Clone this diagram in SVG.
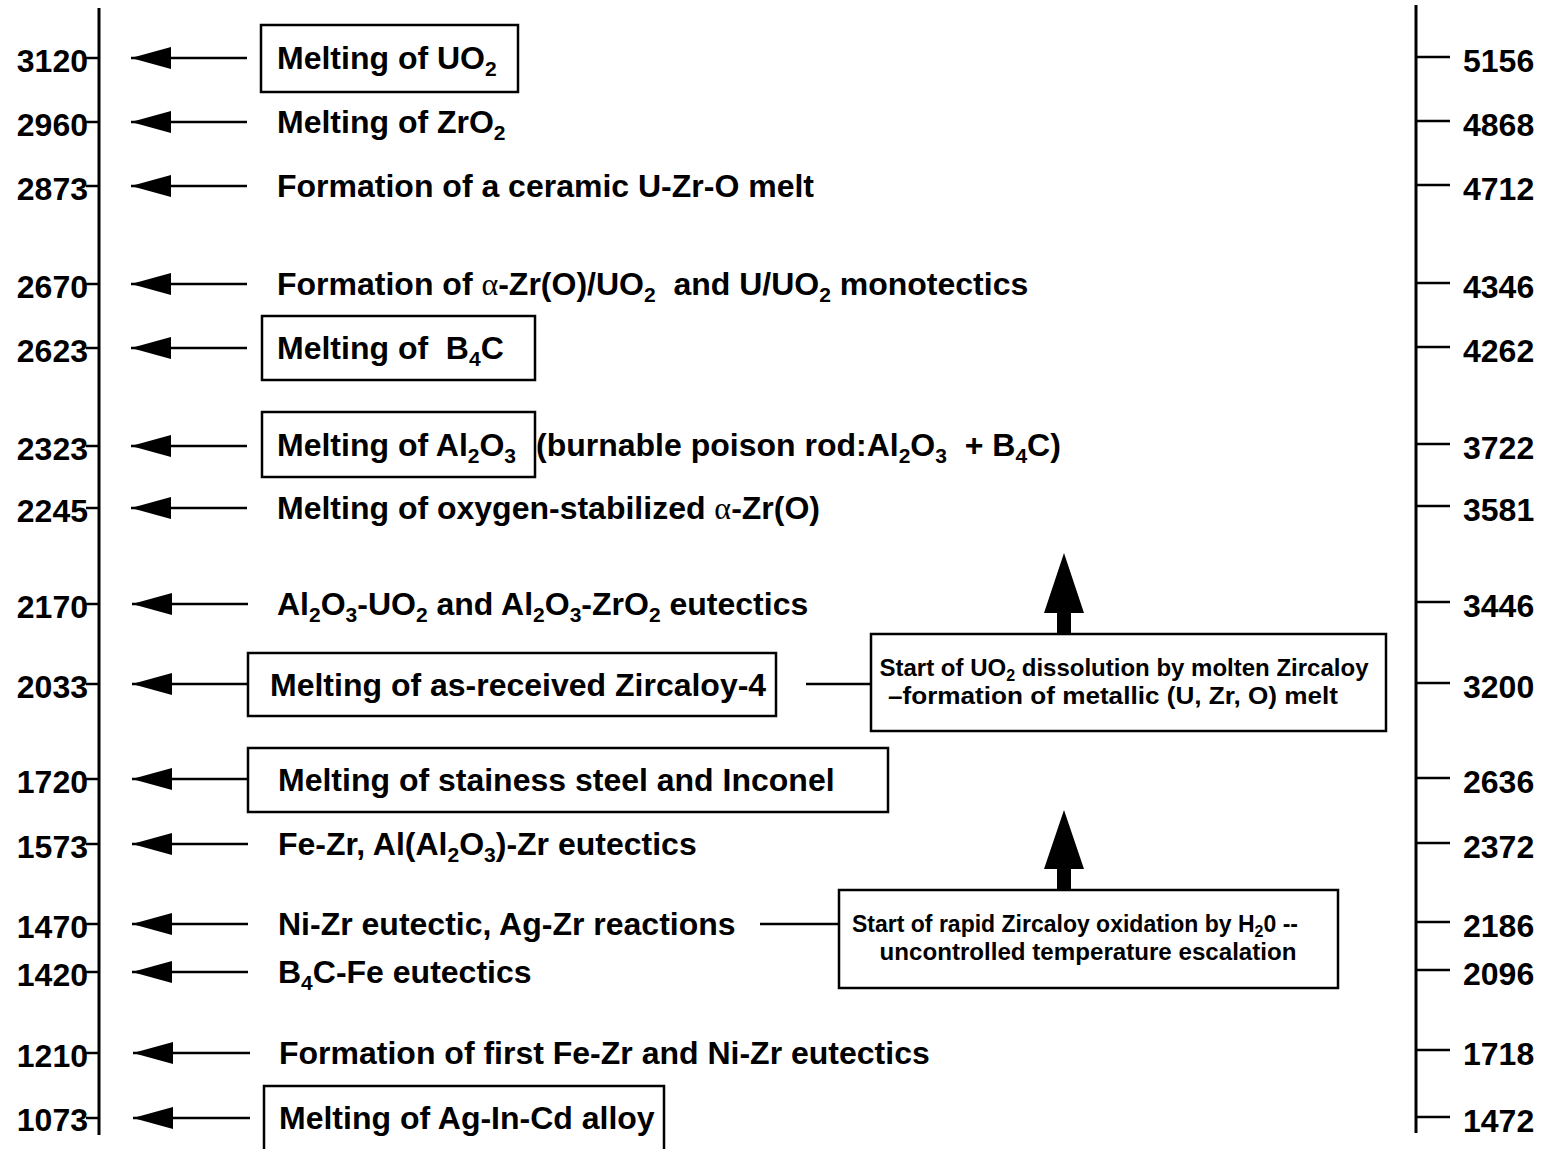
<svg xmlns="http://www.w3.org/2000/svg" width="1543" height="1149" viewBox="0 0 1543 1149">
  <style>
    text { font-family: "Liberation Sans", Arial, sans-serif; font-weight: bold; fill: #000; }
    .num { font-size: 32px; }
    .numL { text-anchor: end; }
    .lbl { font-size: 32px; }
    .sub { font-size: 21px; }
    .greek { font-family: "Liberation Serif", "Times New Roman", serif; font-weight: normal; }
    .note { font-size: 23px; text-anchor: middle; }
    .note .sub { font-size: 16px; }
    .axis { stroke: #000; stroke-width: 3; fill: none; }
    .tick { stroke: #000; stroke-width: 2.5; }
    .box { fill: none; stroke: #000; stroke-width: 2.5; }
    .conn { stroke: #000; stroke-width: 2.5; fill: none; }
    .big { fill: #000; }
  </style>
  <defs>
    <marker id="head" markerUnits="userSpaceOnUse" markerWidth="42" markerHeight="26" refX="40" refY="13" orient="auto">
      <path d="M0,2 L40,13 L0,24 Z" fill="#000"/>
    </marker>
  </defs>

  <rect width="1543" height="1149" fill="#fff"/>

  <!-- left scale (K) -->
  <g id="scale-left">
    <line class="axis" x1="99" y1="8" x2="99" y2="1135"/>
    <g class="tick">
      <line x1="86" y1="58" x2="99" y2="58"/>
      <line x1="86" y1="122" x2="99" y2="122"/>
      <line x1="86" y1="186" x2="99" y2="186"/>
      <line x1="86" y1="284" x2="99" y2="284"/>
      <line x1="86" y1="348" x2="99" y2="348"/>
      <line x1="86" y1="446" x2="99" y2="446"/>
      <line x1="86" y1="508" x2="99" y2="508"/>
      <line x1="86" y1="604" x2="99" y2="604"/>
      <line x1="86" y1="684" x2="99" y2="684"/>
      <line x1="86" y1="779" x2="99" y2="779"/>
      <line x1="86" y1="844" x2="99" y2="844"/>
      <line x1="86" y1="924" x2="99" y2="924"/>
      <line x1="86" y1="972" x2="99" y2="972"/>
      <line x1="86" y1="1053" x2="99" y2="1053"/>
      <line x1="86" y1="1118" x2="99" y2="1118"/>
    </g>
    <g class="num numL">
      <text x="88" y="72">3120</text>
      <text x="88" y="136">2960</text>
      <text x="88" y="200">2873</text>
      <text x="88" y="298">2670</text>
      <text x="88" y="362">2623</text>
      <text x="88" y="460">2323</text>
      <text x="88" y="522">2245</text>
      <text x="88" y="618">2170</text>
      <text x="88" y="698">2033</text>
      <text x="88" y="793">1720</text>
      <text x="88" y="858">1573</text>
      <text x="88" y="938">1470</text>
      <text x="88" y="986">1420</text>
      <text x="88" y="1067">1210</text>
      <text x="88" y="1131">1073</text>
    </g>
  </g>

  <!-- right scale (°F) -->
  <g id="scale-right">
    <line class="axis" x1="1416" y1="5" x2="1416" y2="1133"/>
    <g class="tick">
      <line x1="1416" y1="57" x2="1450" y2="57"/>
      <line x1="1416" y1="121" x2="1450" y2="121"/>
      <line x1="1416" y1="185" x2="1450" y2="185"/>
      <line x1="1416" y1="283" x2="1450" y2="283"/>
      <line x1="1416" y1="347" x2="1450" y2="347"/>
      <line x1="1416" y1="444" x2="1450" y2="444"/>
      <line x1="1416" y1="506" x2="1450" y2="506"/>
      <line x1="1416" y1="602" x2="1450" y2="602"/>
      <line x1="1416" y1="683" x2="1450" y2="683"/>
      <line x1="1416" y1="778" x2="1450" y2="778"/>
      <line x1="1416" y1="843" x2="1450" y2="843"/>
      <line x1="1416" y1="922" x2="1450" y2="922"/>
      <line x1="1416" y1="970" x2="1450" y2="970"/>
      <line x1="1416" y1="1050" x2="1450" y2="1050"/>
      <line x1="1416" y1="1117" x2="1450" y2="1117"/>
    </g>
    <g class="num">
      <text x="1463" y="72">5156</text>
      <text x="1463" y="136">4868</text>
      <text x="1463" y="200">4712</text>
      <text x="1463" y="298">4346</text>
      <text x="1463" y="362">4262</text>
      <text x="1463" y="459">3722</text>
      <text x="1463" y="521">3581</text>
      <text x="1463" y="617">3446</text>
      <text x="1463" y="698">3200</text>
      <text x="1463" y="793">2636</text>
      <text x="1463" y="858">2372</text>
      <text x="1463" y="937">2186</text>
      <text x="1463" y="985">2096</text>
      <text x="1463" y="1065">1718</text>
      <text x="1463" y="1132">1472</text>
    </g>
  </g>

  <!-- connectors -->
  <g id="connectors">
    <g class="conn" marker-end="url(#head)">
      <line x1="247" y1="58" x2="131" y2="58"/>
      <line x1="247" y1="122" x2="131" y2="122"/>
      <line x1="247" y1="186" x2="131" y2="186"/>
      <line x1="247" y1="284" x2="131" y2="284"/>
      <line x1="247" y1="348" x2="131" y2="348"/>
      <line x1="247" y1="446" x2="131" y2="446"/>
      <line x1="247" y1="508" x2="131" y2="508"/>
      <line x1="248" y1="604" x2="132" y2="604"/>
      <line x1="248" y1="684" x2="132" y2="684"/>
      <line x1="248" y1="779" x2="132" y2="779"/>
      <line x1="248" y1="844" x2="132" y2="844"/>
      <line x1="248" y1="924" x2="132" y2="924"/>
      <line x1="248" y1="972" x2="132" y2="972"/>
      <line x1="250" y1="1053" x2="133" y2="1053"/>
      <line x1="250" y1="1118" x2="133" y2="1118"/>
    </g>
    <line class="conn" x1="806" y1="684" x2="871" y2="684"/>
    <line class="conn" x1="760" y1="924" x2="839" y2="924"/>
    <path class="big" d="M1064,553 L1084,613 L1071,613 L1071,634 L1057,634 L1057,613 L1044,613 Z"/>
    <path class="big" d="M1064,810 L1084,869 L1071,869 L1071,890 L1057,890 L1057,869 L1044,869 Z"/>
  </g>

  <!-- events -->
  <g id="uo2">
    <rect class="box" x="261" y="25" width="257" height="67"/>
    <text class="lbl" x="277" y="69">Melting of UO<tspan class="sub" dy="7">2</tspan></text>
  </g>
  <g id="zro2">
    <text class="lbl" x="277" y="133">Melting of ZrO<tspan class="sub" dy="7">2</tspan></text>
  </g>
  <g id="ceramic-melt">
    <text class="lbl" x="277" y="197">Formation of a ceramic U-Zr-O melt</text>
  </g>
  <g id="monotectics">
    <text class="lbl" x="277" y="295" xml:space="preserve">Formation of <tspan class="greek">α</tspan>-Zr(O)/UO<tspan class="sub" dy="7">2</tspan><tspan dy="-7">  and U/UO</tspan><tspan class="sub" dy="7">2</tspan><tspan dy="-7"> monotectics</tspan></text>
  </g>
  <g id="b4c">
    <rect class="box" x="262" y="316" width="273" height="64"/>
    <text class="lbl" x="277" y="359" xml:space="preserve">Melting of  B<tspan class="sub" dy="7">4</tspan><tspan dy="-7">C</tspan></text>
  </g>
  <g id="al2o3">
    <rect class="box" x="262" y="412" width="273" height="65"/>
    <text class="lbl" x="277" y="456">Melting of Al<tspan class="sub" dy="7">2</tspan><tspan dy="-7">O</tspan><tspan class="sub" dy="7">3</tspan></text>
    <text class="lbl" x="536" y="456" xml:space="preserve">(burnable poison rod:Al<tspan class="sub" dy="7">2</tspan><tspan dy="-7">O</tspan><tspan class="sub" dy="7">3</tspan><tspan dy="-7">  + B</tspan><tspan class="sub" dy="7">4</tspan><tspan dy="-7">C)</tspan></text>
  </g>
  <g id="alpha-zr">
    <text class="lbl" x="277" y="519">Melting of oxygen-stabilized <tspan class="greek">α</tspan>-Zr(O)</text>
  </g>
  <g id="al2o3-eutectics">
    <text class="lbl" x="277" y="615">Al<tspan class="sub" dy="7">2</tspan><tspan dy="-7">O</tspan><tspan class="sub" dy="7">3</tspan><tspan dy="-7">-UO</tspan><tspan class="sub" dy="7">2</tspan><tspan dy="-7"> and Al</tspan><tspan class="sub" dy="7">2</tspan><tspan dy="-7">O</tspan><tspan class="sub" dy="7">3</tspan><tspan dy="-7">-ZrO</tspan><tspan class="sub" dy="7">2</tspan><tspan dy="-7"> eutectics</tspan></text>
  </g>
  <g id="zircaloy">
    <rect class="box" x="248" y="653" width="528" height="63"/>
    <text class="lbl" x="270" y="696">Melting of as-received Zircaloy-4</text>
  </g>
  <g id="steel">
    <rect class="box" x="248" y="748" width="640" height="64"/>
    <text class="lbl" x="278" y="791">Melting of stainess steel and Inconel</text>
  </g>
  <g id="fe-zr">
    <text class="lbl" x="278" y="855">Fe-Zr, Al(Al<tspan class="sub" dy="7">2</tspan><tspan dy="-7">O</tspan><tspan class="sub" dy="7">3</tspan><tspan dy="-7">)-Zr eutectics</tspan></text>
  </g>
  <g id="ni-zr">
    <text class="lbl" x="278" y="935">Ni-Zr eutectic, Ag-Zr reactions</text>
  </g>
  <g id="b4c-fe">
    <text class="lbl" x="278" y="983">B<tspan class="sub" dy="7">4</tspan><tspan dy="-7">C-Fe eutectics</tspan></text>
  </g>
  <g id="first-eutectics">
    <text class="lbl" x="279" y="1064">Formation of first Fe-Zr and Ni-Zr eutectics</text>
  </g>
  <g id="ag-in-cd">
    <path class="box" d="M264,1152 L264,1086 L664,1086 L664,1152"/>
    <text class="lbl" x="279" y="1129">Melting of Ag-In-Cd alloy</text>
  </g>

  <!-- side notes -->
  <g id="dissolution">
    <rect class="box" x="871" y="634" width="515" height="97"/>
    <text class="note" x="1124" y="676" style="font-size:24px">Start of UO<tspan class="sub" dy="5">2</tspan><tspan dy="-5"> dissolution by molten Zircaloy</tspan></text>
    <text class="note" x="1113" y="704" textLength="450" lengthAdjust="spacingAndGlyphs">–formation of metallic (U, Zr, O) melt</text>
  </g>
  <g id="oxidation">
    <rect class="box" x="839" y="890" width="499" height="98"/>
    <text class="note" x="1075" y="932">Start of rapid Zircaloy oxidation by H<tspan class="sub" dy="5">2</tspan><tspan dy="-5">0 --</tspan></text>
    <text class="note" x="1088" y="960" textLength="417" lengthAdjust="spacingAndGlyphs">uncontrolled temperature escalation</text>
  </g>
</svg>
